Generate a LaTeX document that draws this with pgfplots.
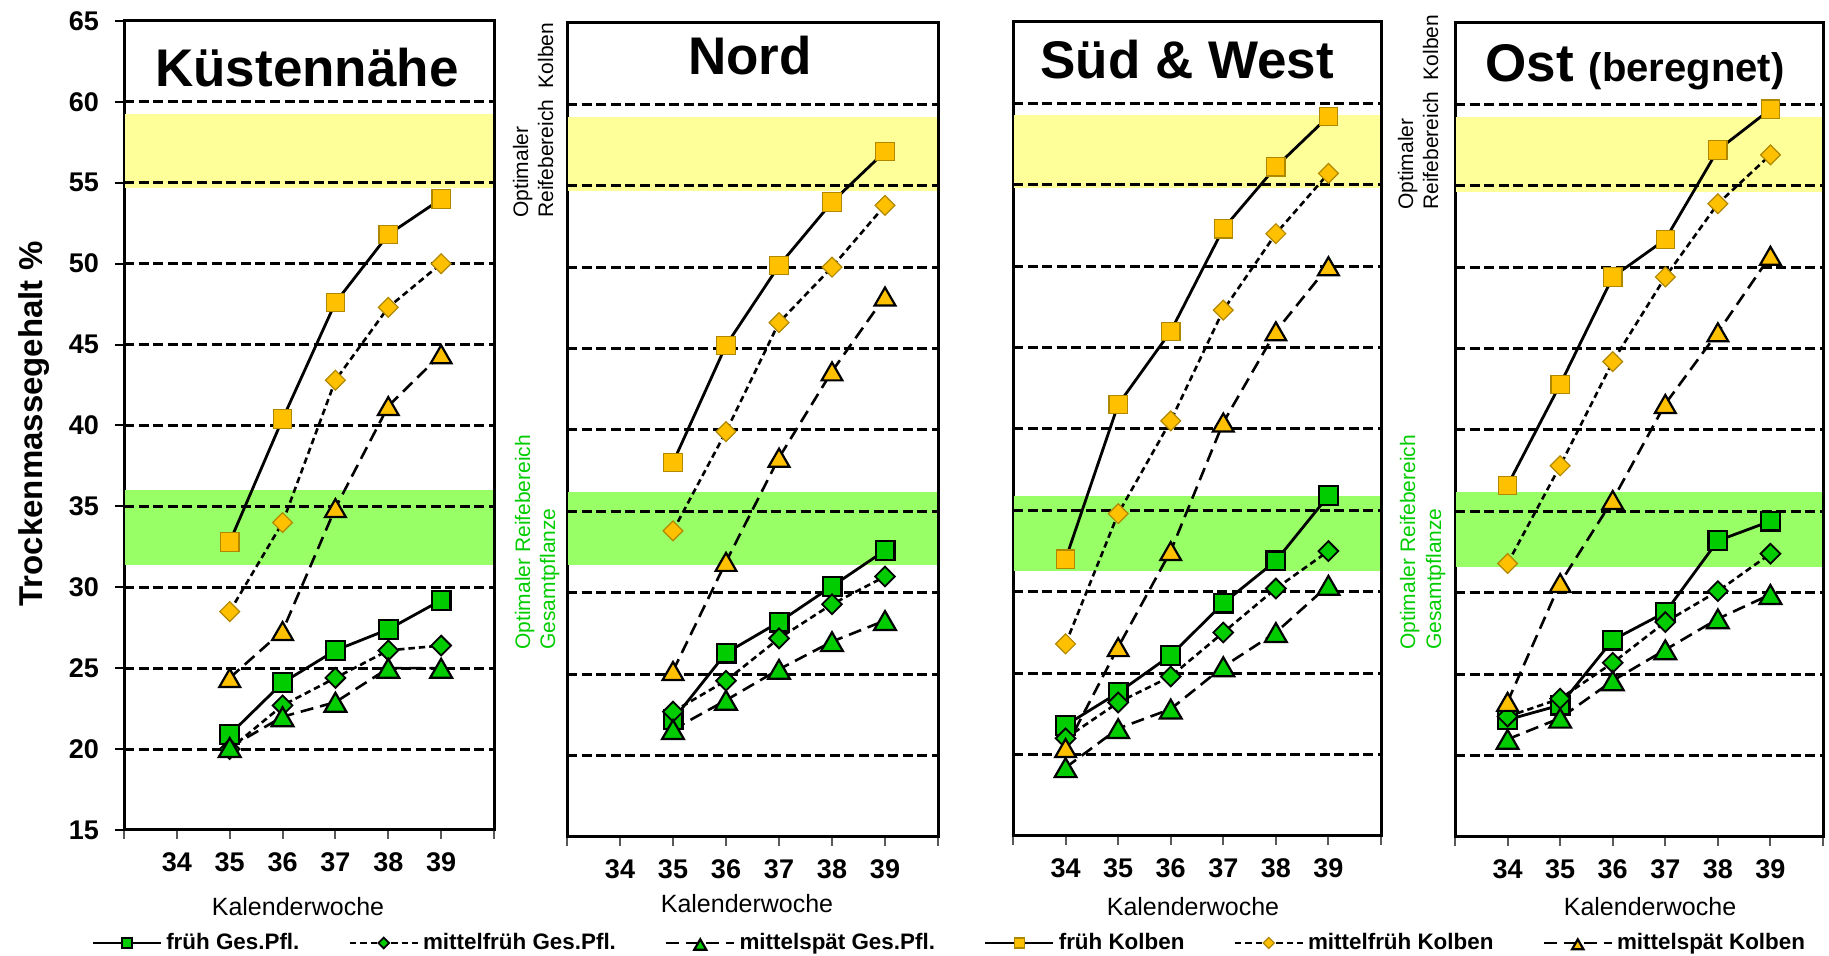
\documentclass[border=0pt]{standalone}
\usepackage{pgfplots}
\pgfplotsset{compat=1.18}
\usepackage{fontspec}
\setmainfont{Liberation Sans}
\definecolor{kgold}{HTML}{FFC000}
\definecolor{kedge}{HTML}{B08800}
\definecolor{ggreen}{HTML}{00CC00}
\definecolor{gband}{HTML}{99FF66}
\definecolor{yband}{HTML}{FFFF99}
\definecolor{gtext}{HTML}{00CC00}
\tikzset{gridl/.style={black, line width=1.5pt, dash pattern=on 5pt off 2.3pt}}
\pgfplotsset{
  panel/.style={
    scale only axis, width=185pt, height=407pt,
    xmin=33, xmax=40, ymin=15, ymax=65,
    xtick={33,34,35,36,37,38,39,40},
    xticklabels={{},34,35,36,37,38,39,{}},
    ytick=\empty,
    tick align=outside, tick pos=left, major tick length=4.5pt,
    axis line style={line width=1.5pt},
    xtick style={color=gray!70!black, line width=1pt},
    ytick style={color=black, line width=1pt},
    ticklabel style={font=\bfseries\fontsize{13.5}{16}\selectfont},
    /pgf/number format/assume math mode=true,
    xticklabel style={yshift=-3.5pt},
    yticklabel style={xshift=-4.5pt},
    clip=true,
    legend image code/.code={\draw[mark repeat=2,mark phase=2,every mark/.append style={scale=0.55}] plot coordinates {(0pt,0pt) (17pt,0pt) (34pt,0pt)};},
  },
  gesfrueh/.style={black, line width=1.4pt, solid, mark=square*, mark size=4.7pt,
    mark options={solid, fill=ggreen, draw=black, line width=1.1pt}},
  gesmf/.style={black, line width=1.3pt, dash pattern=on 3.2pt off 2pt, mark=square*, mark size=3.5pt,
    mark options={solid, rotate=45, fill=ggreen, draw=black, line width=0.9pt}},
  gesms/.style={black, line width=1.3pt, dash pattern=on 6.5pt off 3.5pt, mark=triangle*, mark size=6.3pt,
    mark options={solid, fill=ggreen, draw=black, line width=1.1pt, yshift=-1.6pt}},
  kfrueh/.style={black, line width=1.4pt, solid, mark=square*, mark size=4.6pt,
    mark options={solid, fill=kgold, draw=kedge, line width=0.6pt}},
  kmf/.style={black, line width=1.3pt, dash pattern=on 3.2pt off 2pt, mark=square*, mark size=3.5pt,
    mark options={solid, rotate=45, fill=kgold, draw=kedge, line width=0.6pt}},
  kms/.style={black, line width=1.3pt, dash pattern=on 6.5pt off 3.5pt, mark=triangle*, mark size=6pt,
    mark options={solid, fill=kgold, draw=black, line width=1.1pt, yshift=-1.5pt}},
}
\newcommand{\bandsgrid}[4]{%
  \fill[gband] (axis cs:33.02,#1) rectangle (axis cs:39.98,#2);
  \fill[yband] (axis cs:33.02,#3) rectangle (axis cs:39.98,#4);
  \pgfplotsinvokeforeach{20,25,30,35,40,45,50,55,60}{\draw[gridl] (axis cs:33,##1) -- (axis cs:40,##1);}
}
\begin{document}
\begin{tikzpicture}
\path[use as bounding box] (0,0) rectangle (914.5pt,478pt);

% ---------------- Panel 1: Kuestennaehe
\begin{axis}[panel, at={(62pt,63pt)}, anchor=south west, width=185pt, height=404.5pt,
  ytick={15,20,25,30,35,40,45,50,55,60,65},
  legend columns=6,
  legend entries={früh Ges.Pfl., mittelfrüh Ges.Pfl., mittelspät Ges.Pfl., früh Kolben, mittelfrüh Kolben, mittelspät Kolben},
  legend style={at={(-0.089,-0.1397)}, anchor=west, draw=none, fill=none, inner sep=0pt,
    font=\bfseries\fontsize{11.2}{13}\selectfont,
    /tikz/every even column/.append style={column sep=22.5pt}},
]
\bandsgrid{31.4}{36.0}{54.7}{59.25}
\addplot[gesfrueh] coordinates {(35,20.9) (36,24.1) (37,26.1) (38,27.4) (39,29.2)};
\addplot[gesmf] coordinates {(35,20.0) (36,22.7) (37,24.4) (38,26.1) (39,26.4)};
\addplot[gesms] coordinates {(35,20.1) (36,22.0) (37,22.9) (38,25.0) (39,25.0)};
\addplot[kfrueh] coordinates {(35,32.8) (36,40.4) (37,47.6) (38,51.8) (39,54.0)};
\addplot[kmf] coordinates {(35,28.5) (36,34.0) (37,42.8) (38,47.3) (39,50.0)};
\addplot[kms] coordinates {(35,24.4) (36,27.3) (37,34.9) (38,41.2) (39,44.4)};
\end{axis}

% ---------------- Panel 2: Nord
\begin{axis}[panel, at={(283.5pt,59.5pt)}, anchor=south west, width=185.5pt, height=407pt]
\bandsgrid{31.7}{36.2}{54.7}{59.25}
\addplot[gesfrueh] coordinates {(35,22.2) (36,26.3) (37,28.2) (38,30.4) (39,32.6)};
\addplot[gesmf] coordinates {(35,22.7) (36,24.6) (37,27.2) (38,29.3) (39,31.0)};
\addplot[gesms] coordinates {(35,21.6) (36,23.4) (37,25.3) (38,27.0) (39,28.3)};
\addplot[kfrueh] coordinates {(35,38.0) (36,45.2) (37,50.1) (38,54.0) (39,57.1)};
\addplot[kmf] coordinates {(35,33.8) (36,39.9) (37,46.6) (38,50.0) (39,53.8)};
\addplot[kms] coordinates {(35,25.2) (36,31.9) (37,38.3) (38,43.6) (39,48.2)};
\end{axis}

% ---------------- Panel 3: Sued & West
\begin{axis}[panel, at={(506.5pt,60pt)}, anchor=south west, width=184pt, height=407pt]
\bandsgrid{31.3}{35.9}{54.8}{59.3}
\addplot[gesfrueh] coordinates {(34,21.8) (35,23.8) (36,26.1) (37,29.3) (38,31.9) (39,35.9)};
\addplot[gesmf] coordinates {(34,21.0) (35,23.2) (36,24.8) (37,27.5) (38,30.2) (39,32.5)};
\addplot[gesms] coordinates {(34,19.2) (35,21.6) (36,22.8) (37,25.4) (38,27.5) (39,30.4)};
\addplot[kfrueh] coordinates {(34,32.0) (35,41.5) (36,46.0) (37,52.3) (38,56.1) (39,59.2)};
\addplot[kmf] coordinates {(34,26.8) (35,34.8) (36,40.5) (37,47.3) (38,52.0) (39,55.7)};
\addplot[kms] coordinates {(34,20.4) (35,26.6) (36,32.5) (37,40.4) (38,46.0) (39,50.0)};
\end{axis}

% ---------------- Panel 4: Ost (beregnet)
\begin{axis}[panel, at={(727.5pt,59.5pt)}, anchor=south west, width=184pt, height=407pt]
\bandsgrid{31.6}{36.2}{54.6}{59.2}
\addplot[gesfrueh] coordinates {(34,22.2) (35,23.1) (36,27.1) (37,28.8) (38,33.2) (39,34.4)};
\addplot[gesmf] coordinates {(34,22.4) (35,23.5) (36,25.7) (37,28.2) (38,30.1) (39,32.4)};
\addplot[gesms] coordinates {(34,21.0) (35,22.3) (36,24.6) (37,26.5) (38,28.4) (39,29.9)};
\addplot[kfrueh] coordinates {(34,36.6) (35,42.8) (36,49.4) (37,51.7) (38,57.2) (39,59.7)};
\addplot[kmf] coordinates {(34,31.8) (35,37.8) (36,44.2) (37,49.4) (38,53.9) (39,56.9)};
\addplot[kms] coordinates {(34,23.3) (35,30.6) (36,35.7) (37,41.6) (38,46.0) (39,50.7)};
\end{axis}

% ---------------- Titles
\node[anchor=base, font=\bfseries\fontsize{26.5}{30}\selectfont] at (153.5pt,434.5pt) {Küstennähe};
\node[anchor=base, font=\bfseries\fontsize{26.5}{30}\selectfont] at (375pt,440.5pt) {Nord};
\node[anchor=base, font=\bfseries\fontsize{26.5}{30}\selectfont] at (593.5pt,438.5pt) {Süd \& West};
\node[anchor=base, font=\bfseries\fontsize{26.5}{30}\selectfont] at (817.5pt,437pt) {Ost {\fontsize{20}{22}\selectfont (beregnet)}};

% ---------------- y label
\node[rotate=90, anchor=base, font=\bfseries\fontsize{16.5}{19}\selectfont] at (21pt,266pt) {Trockenmassegehalt \%};

% ---------------- x labels
\node[anchor=base, font=\fontsize{12.5}{15}\selectfont] at (149pt,20pt) {Kalenderwoche};
\node[anchor=base, font=\fontsize{12.5}{15}\selectfont] at (373.5pt,21.5pt) {Kalenderwoche};
\node[anchor=base, font=\fontsize{12.5}{15}\selectfont] at (596.5pt,20pt) {Kalenderwoche};
\node[anchor=base, font=\fontsize{12.5}{15}\selectfont] at (825pt,20pt) {Kalenderwoche};

% ---------------- side labels
\begin{scope}[every node/.style={rotate=90, anchor=base west, inner sep=0pt, font=\fontsize{10.5}{12}\selectfont}]
\node at (264pt,369pt) {Optimaler};
\node at (276.5pt,369pt) {Reifebereich\ \ Kolben};
\node at (706.5pt,373pt) {Optimaler};
\node at (719pt,373pt) {Reifebereich\ \ Kolben};
\node[text=gtext] at (265pt,153pt) {Optimaler Reifebereich};
\node[text=gtext] at (277.5pt,153pt) {Gesamtpflanze};
\node[text=gtext] at (707.5pt,153pt) {Optimaler Reifebereich};
\node[text=gtext] at (720.5pt,153pt) {Gesamtpflanze};
\end{scope}
\end{tikzpicture}
\end{document}
